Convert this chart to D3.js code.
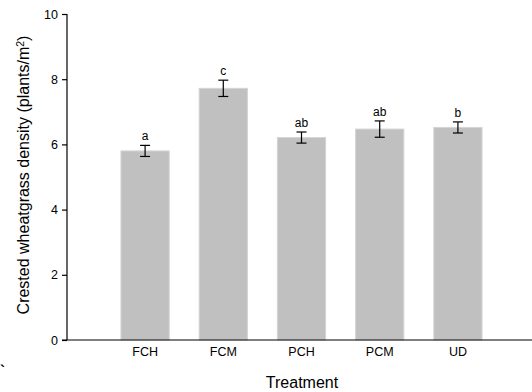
<html lang="en">
<head>
    <meta charset="UTF-8">
    <title>Crested wheatgrass density</title>
    <style>
        body { margin: 0; background: #fff; }
        svg text { font-family: Arial, "Liberation Sans", sans-serif; fill: #000; }
        .tick text { font-size: 12.5px; }
    </style>
</head>
<body>
    <svg id="chart"></svg>
    <script src="https://cdnjs.cloudflare.com/ajax/libs/d3/7.8.5/d3.min.js"></script>
    <script>
        // data
        var treatments = ["FCH", "FCM", "PCH", "PCM", "UD"];
        var density = [5.80, 7.72, 6.21, 6.47, 6.52];
        var stdErr = [0.17, 0.25, 0.17, 0.25, 0.17];
        var letters = ["a", "c", "ab", "ab", "b"];
        var yTicks = [0, 2, 4, 6, 8, 10];

        var width = 532, height = 392;
        var x0 = 67, yBottom = 340, yTop = 14;

        var svg = d3.select("#chart")
            .attr("width", width)
            .attr("height", height);

        var x = d3.scaleBand()
            .domain(treatments)
            .range([x0, 536])
            .paddingInner(0.383)
            .paddingOuter(0.69);

        var y = d3.scaleLinear()
            .domain([0, 10])
            .range([yBottom, yTop]);

        // bars
        svg.selectAll("rect.bar")
            .data(treatments)
            .enter().append("rect")
            .attr("class", "bar")
            .attr("x", function(d) { return x(d); })
            .attr("y", function(d, i) { return y(density[i]); })
            .attr("width", x.bandwidth())
            .attr("height", function(d, i) { return y(0) - y(density[i]); })
            .attr("fill", "#c0c0c0")
            .attr("stroke", "#d4d4d4")
            .attr("stroke-width", 1);

        // error bars
        var cap = 5;
        var eb = svg.selectAll("g.err")
            .data(treatments)
            .enter().append("g")
            .attr("class", "err")
            .attr("stroke", "#000")
            .attr("stroke-width", 1.2);
        eb.append("line")
            .attr("x1", function(d) { return x(d) + x.bandwidth() / 2; })
            .attr("x2", function(d) { return x(d) + x.bandwidth() / 2; })
            .attr("y1", function(d, i) { return y(density[i] - stdErr[i]); })
            .attr("y2", function(d, i) { return y(density[i] + stdErr[i]); });
        eb.append("line")
            .attr("x1", function(d) { return x(d) + x.bandwidth() / 2 - cap; })
            .attr("x2", function(d) { return x(d) + x.bandwidth() / 2 + cap; })
            .attr("y1", function(d, i) { return y(density[i] + stdErr[i]); })
            .attr("y2", function(d, i) { return y(density[i] + stdErr[i]); });
        eb.append("line")
            .attr("x1", function(d) { return x(d) + x.bandwidth() / 2 - cap; })
            .attr("x2", function(d) { return x(d) + x.bandwidth() / 2 + cap; })
            .attr("y1", function(d, i) { return y(density[i] - stdErr[i]); })
            .attr("y2", function(d, i) { return y(density[i] - stdErr[i]); });

        // significance letters
        svg.selectAll("text.letter")
            .data(treatments)
            .enter().append("text")
            .attr("class", "letter")
            .attr("x", function(d) { return x(d) + x.bandwidth() / 2; })
            .attr("y", function(d, i) { return y(density[i] + stdErr[i]) - 5; })
            .attr("text-anchor", "middle")
            .style("font-size", "12px")
            .text(function(d, i) { return letters[i]; });

        // y axis
        var yAxis = svg.append("g")
            .attr("transform", "translate(" + x0 + ",0)")
            .call(d3.axisLeft(y).tickValues(yTicks).tickSize(5).tickPadding(4).tickFormat(d3.format("d")));
        yAxis.selectAll("path, line").attr("stroke", "#000").attr("stroke-width", 1.2);
        yAxis.select(".domain").attr("d", "M0," + yBottom + "V" + yTop);

        // x axis (no ticks, line runs to the right edge)
        var xAxis = svg.append("g")
            .attr("transform", "translate(0," + yBottom + ")")
            .call(d3.axisBottom(x).tickSize(0).tickPadding(7));
        xAxis.select(".domain").attr("d", "M" + (x0 - 5) + ",0H" + width)
            .attr("stroke", "#000").attr("stroke-width", 1.2);

        // axis titles
        svg.append("text")
            .attr("x", 302)
            .attr("y", 388)
            .attr("text-anchor", "middle")
            .style("font-size", "16px")
            .text("Treatment");

        var yt = svg.append("text")
            .attr("transform", "translate(29,175) rotate(-90)")
            .attr("text-anchor", "middle")
            .style("font-size", "16px");
        yt.append("tspan").text("Crested wheatgrass density (plants/m");
        yt.append("tspan").attr("dy", "-0.45em").style("font-size", "10.5px").text("2");
        yt.append("tspan").attr("dy", "0.3em").text(")");

        // stray mark in the original figure
        svg.append("text")
            .attr("x", 0)
            .attr("y", 376)
            .style("font-size", "15px")
            .style("font-weight", "bold")
            .text("`");
    </script>
</body>
</html>
